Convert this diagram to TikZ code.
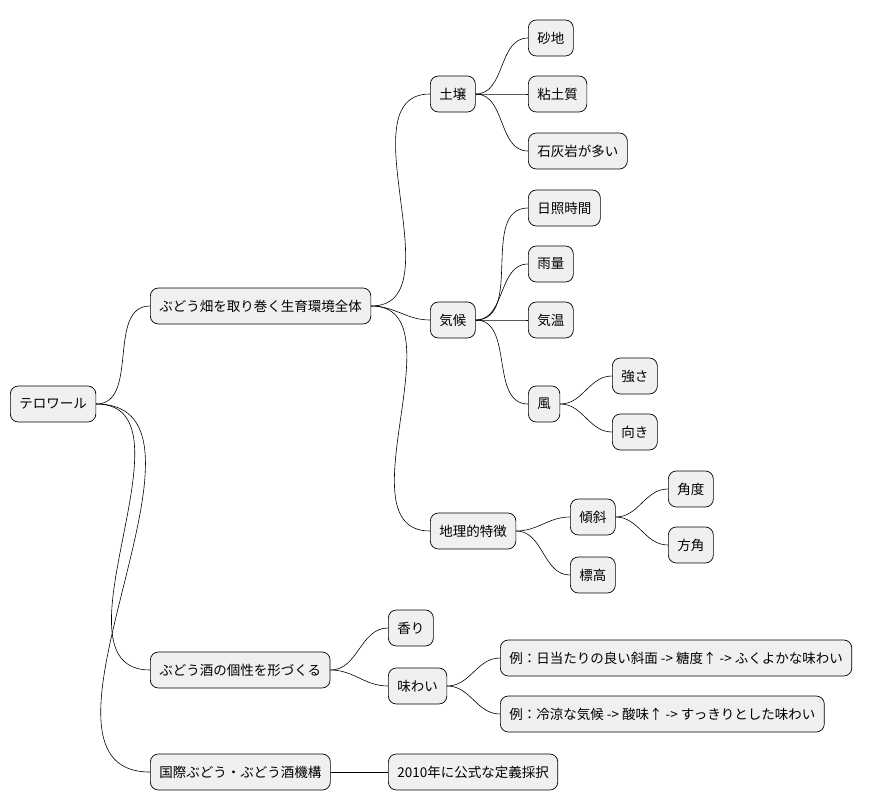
\documentclass[tikz,border=0pt]{standalone}
\usepackage{fontspec}
\setmainfont{Noto Sans CJK JP}
\begin{document}
\begin{tikzpicture}[x=1pt,y=1pt,
  mm/.style={draw=black,fill=black!6,rounded corners=8pt,anchor=west,minimum height=36pt,inner xsep=9pt,font=\fontsize{13.5}{16}\selectfont,line width=0.7pt},
  lk/.style={line width=0.6pt}]
\useasboundingbox (0,0) rectangle (888,-809);
\node[mm] (r) at (10,-404) {テロワール};
\node[mm] (a) at (150,-306) {ぶどう畑を取り巻く生育環境全体};
\node[mm] (b) at (150,-670) {ぶどう酒の個性を形づくる};
\node[mm] (c) at (150,-772) {国際ぶどう・ぶどう酒機構};
\node[mm] (a1) at (430,-94) {土壌};
\node[mm] (a2) at (430,-320) {気候};
\node[mm] (a3) at (430,-531) {地理的特徴};
\node[mm] (a11) at (528,-38) {砂地};
\node[mm] (a12) at (528,-94) {粘土質};
\node[mm] (a13) at (528,-151) {石灰岩が多い};
\node[mm] (a21) at (528,-208) {日照時間};
\node[mm] (a22) at (528,-264) {雨量};
\node[mm] (a23) at (528,-320) {気温};
\node[mm] (a24) at (528,-404) {風};
\node[mm] (a241) at (612,-376) {強さ};
\node[mm] (a242) at (612,-432) {向き};
\node[mm] (a31) at (570,-517) {傾斜};
\node[mm] (a32) at (570,-575) {標高};
\node[mm] (a311) at (668,-489) {角度};
\node[mm] (a312) at (668,-545) {方角};
\node[mm] (b1) at (388,-628) {香り};
\node[mm] (b2) at (388,-686) {味わい};
\node[mm] (b21) at (500,-658) {例：日当たりの良い斜面 -> 糖度↑ -> ふくよかな味わい};
\node[mm] (b22) at (500,-714) {例：冷涼な気候 -> 酸味↑ -> すっきりとした味わい};
\node[mm] (c1) at (388,-772) {2010年に公式な定義採択};
\foreach \p/\q in {r/a,r/b,r/c,a/a1,a/a2,a/a3,a1/a11,a1/a12,a1/a13,a2/a21,a2/a22,a2/a23,a2/a24,a24/a241,a24/a242,a3/a31,a3/a32,a31/a311,a31/a312,b/b1,b/b2,b2/b21,b2/b22,c/c1}
  \draw[lk] (\p.east) to[out=0,in=180] (\q.west);
\end{tikzpicture}
\end{document}
